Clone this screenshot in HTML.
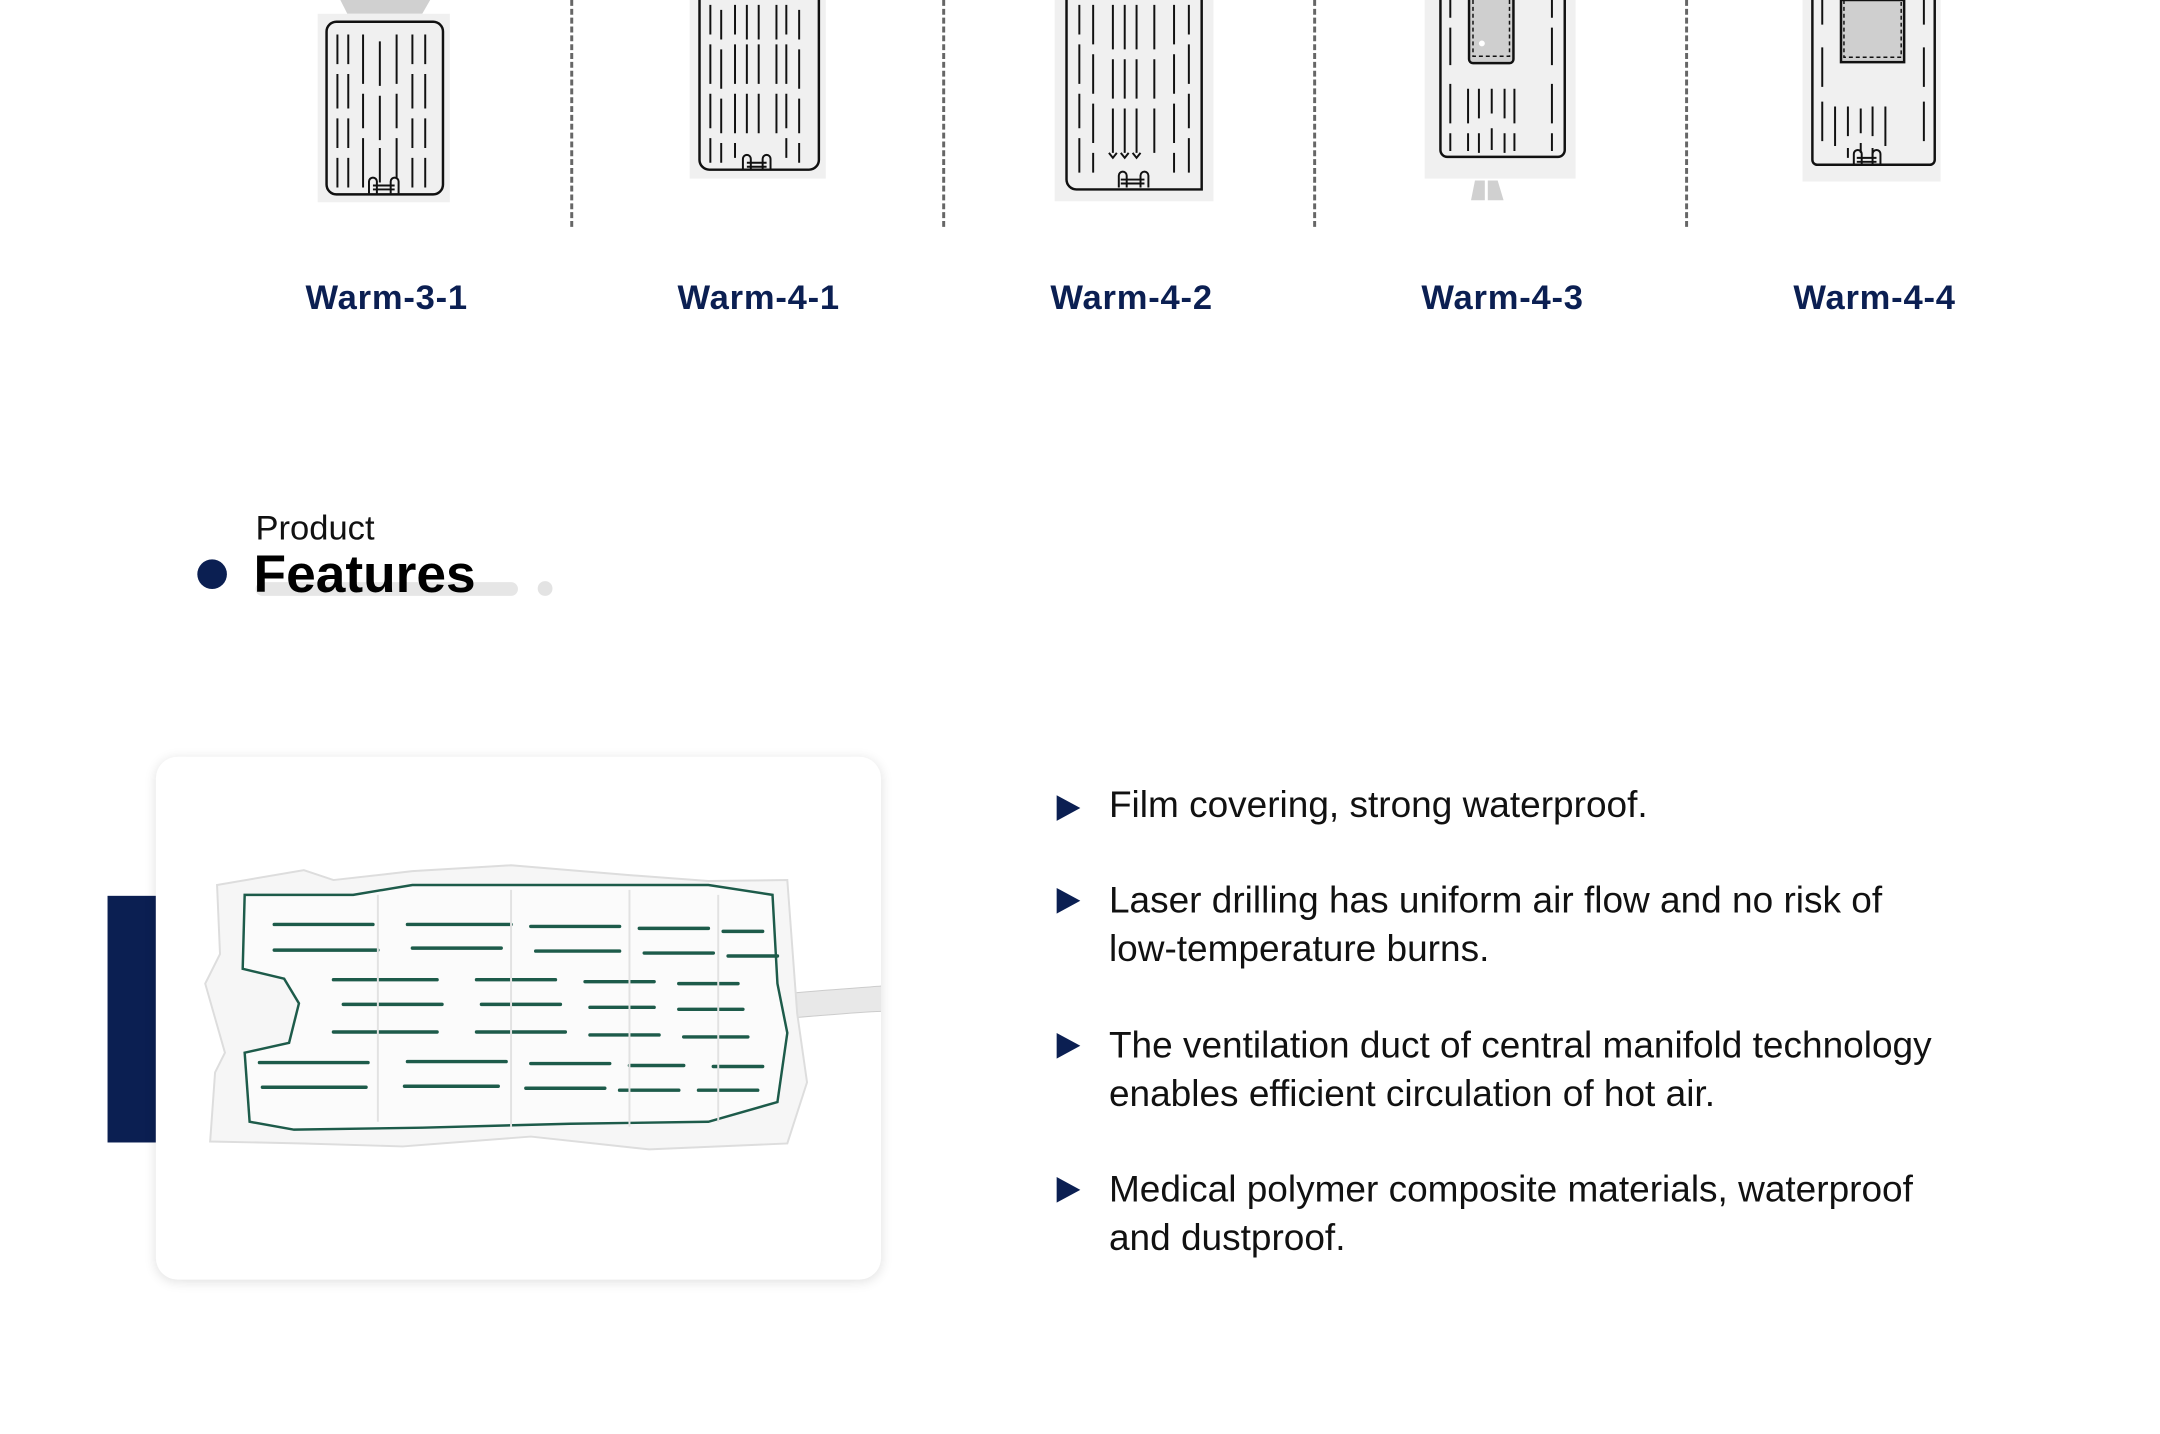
<!DOCTYPE html>
<html><head><meta charset="utf-8"><style>
html,body{margin:0;padding:0;background:#fff;}
body{width:2160px;height:1433px;position:relative;overflow:hidden;font-family:"Liberation Sans",sans-serif;}
#w{position:absolute;left:0;top:0;width:2190px;height:1453px;transform:scale(0.9866);transform-origin:0 0;}
.abs{position:absolute;}
.lbl{position:absolute;top:282px;width:300px;margin-left:-150px;text-align:center;font-size:35px;font-weight:bold;color:#0b1f52;letter-spacing:0.8px;}
.dash{position:absolute;top:0;width:0;height:230px;border-left:3px dashed #666;}
.feat{position:absolute;left:1124px;font-size:37.5px;color:#111;line-height:49px;width:1000px;}
.arr{position:absolute;left:1071px;width:0;height:0;border-top:13px solid transparent;border-bottom:13px solid transparent;border-left:24px solid #0b1f52;}
</style></head><body><div id="w">

<svg class="abs" style="left:0;top:0" width="2160" height="240" viewBox="0 0 2160 240">
<g fill="none" stroke="#111" stroke-width="2.5">
<path d="M345 0 L352 14 L428 14 L436 0" fill="#d0d0d0" stroke="none"/>
<rect x="322" y="14" width="134" height="191" fill="#f0f0f0" stroke="none"/>
<rect x="331" y="22" width="118" height="175" rx="10"/>
<g stroke-width="2">
<path d="M342 35v30M342 75v35M342 120v30M342 160v30 M353 35v30M353 75v35M353 120v30M353 160v30 M368 35v50M368 95v35M368 140v50 M385 42v45M385 97v45M385 150v35 M402 35v50M402 95v35M402 140v40 M418 35v30M418 75v35M418 120v30M418 160v30 M431 35v30M431 75v35M431 120v30M431 160v30"/>
<path d="M374 196v-12a4 4 0 0 1 8 0v12M396 196v-12a4 4 0 0 1 8 0v12M378 188h22M378 192h22"/>
</g>
<rect x="699" y="0" width="138" height="181" fill="#f0f0f0" stroke="none"/>
<path d="M709 0V162a10 10 0 0 0 10 10H820a10 10 0 0 0 10-10V0"/>
<g stroke-width="2">
<path d="M720 5v30M720 45v40M720 95v35M720 140v25 M731 10v30M731 50v40M731 100v35M731 145v20 M745 5v30M745 45v40M745 95v40M745 145v15 M757 5v35M757 45v40M757 95v40 M769 5v35M769 45v40M769 95v40 M797 5v30M797 45v40M797 95v35M797 140v20 M810 10v30M810 50v40M810 100v35M810 145v20 M787 5v35M787 45v40M787 95v40"/>
<path d="M753 171v-10a4 4 0 0 1 8 0v10M773 171v-10a4 4 0 0 1 8 0v10M757 165h20M757 169h20"/>
</g>
<rect x="1069" y="0" width="161" height="204" fill="#f0f0f0" stroke="none"/>
<path d="M1081 0V182a10 10 0 0 0 10 10H1218V0"/>
<g stroke-width="2">
<path d="M1094 5v30M1094 45v40M1094 95v35M1094 140v35 M1108 5v40M1108 55v40M1108 105v40M1108 155v20 M1128 5v45M1128 60v40M1128 110v45 M1140 5v45M1140 60v40M1140 110v45 M1152 5v45M1152 60v40M1152 110v45 M1170 5v45M1170 60v40M1170 110v45 M1190 5v40M1190 55v40M1190 105v40M1190 155v20 M1205 5v30M1205 45v40M1205 95v35M1205 140v35"/>
<path d="M1124 155l4 5 4-5M1136 155l4 5 4-5M1148 155l4 5 4-5"/>
<path d="M1134 190v-12a4 4 0 0 1 8 0v12M1156 190v-12a4 4 0 0 1 8 0v12M1136 182h24M1136 186h24"/>
</g>
<rect x="1444" y="0" width="153" height="181" fill="#f0f0f0" stroke="none"/>
<path d="M1495 183h10v20h-14zM1508 183h10l6 20h-16z" fill="#d0d0d0" stroke="none"/>
<path d="M1460 0V152a7 7 0 0 0 7 7H1579a7 7 0 0 0 7-7V0"/>
<path d="M1489 0V60a4 4 0 0 0 4 4H1530a4 4 0 0 0 4-4V0" fill="#cfcfcf"/>
<path d="M1493 0V57H1530V0" stroke-dasharray="4 3" stroke-width="1.5"/>
<circle cx="1502" cy="44" r="3" fill="#fff" stroke="none"/>
<g stroke-width="2">
<path d="M1470 0v18M1470 28v38M1470 85v40M1470 135v18 M1573 0v18M1573 28v38M1573 85v40M1573 135v18 M1488 90v35M1488 135v18 M1499 90v30M1499 135v20 M1512 90v25M1512 130v22 M1525 90v30M1525 135v20 M1535 90v35M1535 135v18"/>
</g>
<rect x="1827" y="0" width="140" height="184" fill="#f0f0f0" stroke="none"/>
<path d="M1837 0V162a5 5 0 0 0 5 5H1956a5 5 0 0 0 5-5V0"/>
<rect x="1866" y="0" width="64" height="63" fill="#cfcfcf"/>
<path d="M1869 0V58H1927V0" stroke-dasharray="4 3" stroke-width="1.5"/>
<g stroke-width="2">
<path d="M1847 0v25M1847 48v40M1847 103v40 M1950 0v25M1950 48v40M1950 103v40 M1860 108v40 M1873 108v30M1873 150v10 M1886 110v25M1886 145v10 M1898 108v30M1898 150v10 M1911 108v40"/>
<path d="M1879 166v-10a4 4 0 0 1 8 0v10M1898 166v-10a4 4 0 0 1 8 0v10M1882 160h20M1882 164h20"/>
</g>
</g>
</svg>

<div class="dash" style="left:578px"></div>
<div class="dash" style="left:955px"></div>
<div class="dash" style="left:1331px"></div>
<div class="dash" style="left:1708px"></div>

<div class="lbl" style="left:392px">Warm-3-1</div>
<div class="lbl" style="left:769px">Warm-4-1</div>
<div class="lbl" style="left:1147px">Warm-4-2</div>
<div class="lbl" style="left:1523px">Warm-4-3</div>
<div class="lbl" style="left:1900px">Warm-4-4</div>

<div class="abs" style="left:259px;top:516px;font-size:35px;color:#111;">Product</div>
<div class="abs" style="left:259px;top:590px;width:266px;height:14px;border-radius:7px;background:#e6e6e6;"></div>
<div class="abs" style="left:545px;top:589px;width:15px;height:15px;border-radius:50%;background:#e3e3e3;"></div>
<div class="abs" style="left:257px;top:551px;font-size:54px;font-weight:bold;color:#000;">Features</div>
<div class="abs" style="left:200px;top:567px;width:30px;height:30px;border-radius:50%;background:#0b1f52;"></div>

<div class="abs" style="left:109px;top:908px;width:49px;height:250px;background:#0b1f52;"></div>
<div class="abs" style="left:158px;top:767px;width:735px;height:530px;border-radius:22px;background:#fff;box-shadow:0 2px 12px rgba(0,0,0,0.12);overflow:hidden;">
<svg width="735" height="530" viewBox="0 0 735 530">
<path d="M640 240 C680 236 720 234 740 232 L740 258 C720 258 680 262 640 265Z" fill="#e8e8e8" stroke="#ccc"/>
<path d="M62 130 L150 115 L180 125 L260 116 L360 110 L480 120 L560 126 L640 125 L650 260 L660 330 L640 392 L500 398 L380 385 L250 395 L150 392 L55 390 L60 320 L70 300 L50 230 L65 200 Z" fill="#f6f6f6" stroke="#ddd" stroke-width="2"/>
<path d="M90 140 L200 140 L260 130 L560 130 L625 140 L630 230 L640 280 L630 350 L560 370 L420 372 L270 376 L140 378 L95 370 L90 300 L135 290 L145 250 L130 225 L88 215 Z" fill="#fbfbfb" stroke="#1d5b4a" stroke-width="2.5"/>
<g stroke="#1d5b4a" stroke-width="3.5" stroke-linecap="round">
<path d="M120 170h100M255 170h105M380 172h90M490 174h70M575 177h40"/>
<path d="M120 196h105M260 194h90M385 197h85M495 199h70M580 202h50"/>
<path d="M180 226h105M325 226h80M435 228h70M530 230h60"/>
<path d="M190 251h100M330 251h80M440 254h65M530 256h65"/>
<path d="M180 279h105M325 279h90M440 282h70M535 284h65"/>
<path d="M105 310h110M255 309h100M380 311h80M480 313h55M565 314h50"/>
<path d="M108 335h105M252 334h95M375 336h80M470 338h60M550 338h60"/>
</g>
<g stroke="#e2e2e2" stroke-width="2" fill="none">
<path d="M225 140v230M360 135v240M480 135v240M570 140v230"/>
</g>
</svg>
</div>

<div class="arr" style="top:806px"></div>
<div class="feat" style="top:791px">Film covering, strong waterproof.</div>
<div class="arr" style="top:900px"></div>
<div class="feat" style="top:888px">Laser drilling has uniform air flow and no risk of<br>low-temperature burns.</div>
<div class="arr" style="top:1047px"></div>
<div class="feat" style="top:1035px">The ventilation duct of central manifold technology<br>enables efficient circulation of hot air.</div>
<div class="arr" style="top:1193px"></div>
<div class="feat" style="top:1181px">Medical polymer composite materials, waterproof<br>and dustproof.</div>

</div></body></html>
